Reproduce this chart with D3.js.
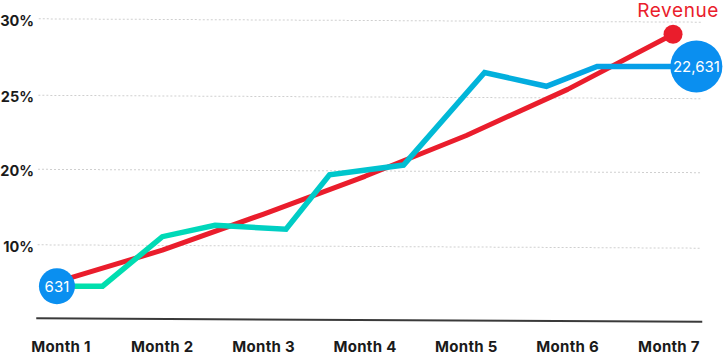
<!DOCTYPE html>
<html>
<head>
<meta charset="utf-8">
<script src="https://cdn.jsdelivr.net/npm/d3@7"></script>
<style>
  html, body { margin: 0; padding: 0; background: #fff; }
  svg { display: block; font-family: Inter, "Open Sans", sans-serif; }
</style>
</head>
<body>
<div id="chart"></div>
<script>
const months = ['Month 1', 'Month 2', 'Month 3', 'Month 4', 'Month 5', 'Month 6', 'Month 7'];
const yTicks = [10, 20, 25, 30];
const yTickLabels = ['10%', '20%', '25%', '30%'];

// trend (x in month units, y in %)
const revenueX = [0.96, 2.0, 3.0, 4.0, 5.0, 6.0, 7.04];
const revenueY = [5.2, 9.5, 14.3, 19.3, 22.4, 25.5, 29.1];

// actual series
const actualX = [0.96, 1.41, 2.0, 2.52, 3.22, 3.65, 4.38, 5.18, 5.79, 6.29, 7.27];
const actualY = [4.6, 4.6, 11.3, 12.8, 12.3, 19.5, 20.4, 26.6, 25.7, 27.0, 27.0];

const startLabel = '631';
const endLabel = '22,631';
const seriesName = 'Revenue';

const width = 723, height = 355;

const svg = d3.select('#chart').append('svg')
  .attr('width', width)
  .attr('height', height);

const x = d3.scaleLinear().domain([1, 7]).range([61, 669]);
// y ticks are evenly spaced even though the values are not
const y = d3.scaleLinear().domain([0, 10, 20, 25, 30]).range([320, 246.5, 171, 97, 20.5]);

// grid + baseline, slightly tilted like the reference
const grid = svg.append('g')
  .attr('transform', 'rotate(0.29, 370, 170)');

grid.selectAll('line.grid')
  .data(yTicks)
  .enter().append('line')
  .attr('class', 'grid')
  .attr('x1', 38)
  .attr('x2', 702)
  .attr('y1', d => y(d))
  .attr('y2', d => y(d))
  .attr('stroke', '#cfcfcf')
  .attr('stroke-width', 1)
  .attr('stroke-dasharray', '2,2');

grid.append('line')
  .attr('x1', 37)
  .attr('x2', 703)
  .attr('y1', y(0))
  .attr('y2', y(0))
  .attr('stroke', '#3a3a3a')
  .attr('stroke-width', 2);

// y labels
svg.selectAll('text.ytick')
  .data(yTicks)
  .enter().append('text')
  .attr('class', 'ytick')
  .attr('x', 34)
  .attr('y', d => y(d))
  .attr('dy', '0.36em')
  .attr('text-anchor', 'end')
  .attr('font-size', '14.5px')
  .attr('font-weight', 700)
  .attr('fill', '#1a1a1a')
  .text((d, i) => yTickLabels[i]);

// x labels
svg.selectAll('text.xtick')
  .data(months)
  .enter().append('text')
  .attr('class', 'xtick')
  .attr('x', (d, i) => x(i + 1))
  .attr('y', 352)
  .attr('text-anchor', 'middle')
  .attr('font-size', '15px')
  .attr('font-weight', 700)
  .attr('letter-spacing', '0.3px')
  .attr('fill', '#1a1a1a')
  .text(d => d);

// gradient for actual line
const defs = svg.append('defs');
const grad = defs.append('linearGradient')
  .attr('id', 'actualGrad')
  .attr('gradientUnits', 'userSpaceOnUse')
  .attr('x1', x(actualX[0])).attr('x2', x(actualX[actualX.length - 1]))
  .attr('y1', 0).attr('y2', 0);
grad.append('stop').attr('offset', '0').attr('stop-color', '#00e2a9');
grad.append('stop').attr('offset', '0.25').attr('stop-color', '#00d6bc');
grad.append('stop').attr('offset', '0.5').attr('stop-color', '#00c2d0');
grad.append('stop').attr('offset', '0.75').attr('stop-color', '#03abe0');
grad.append('stop').attr('offset', '1').attr('stop-color', '#0898ec');

const line = d3.line()
  .x(d => x(d[0]))
  .y(d => y(d[1]));

const revenue = revenueX.map((v, i) => [v, revenueY[i]]);
const actual = actualX.map((v, i) => [v, actualY[i]]);

svg.append('path')
  .datum(revenue)
  .attr('d', line)
  .attr('fill', 'none')
  .attr('stroke', '#ea1d2c')
  .attr('stroke-width', 5)
  .attr('stroke-linejoin', 'round');

svg.append('path')
  .datum(actual)
  .attr('d', line)
  .attr('fill', 'none')
  .attr('stroke', 'url(#actualGrad)')
  .attr('stroke-width', 5.5)
  .attr('stroke-linejoin', 'miter');

// end dot of revenue line
const rLast = revenue[revenue.length - 1];
svg.append('circle')
  .attr('cx', x(rLast[0]))
  .attr('cy', y(rLast[1]))
  .attr('r', 9.5)
  .attr('fill', '#ea1d2c');

svg.append('text')
  .attr('x', 719)
  .attr('y', 17)
  .attr('text-anchor', 'end')
  .attr('font-size', '19px')
  .attr('letter-spacing', '0.6px')
  .attr('fill', '#ea1d2c')
  .text(seriesName);

// start / end bubbles
const aFirst = actual[0], aLast = actual[actual.length - 1];
const bubbles = [
  { p: aFirst, r: 18, label: startLabel, size: 15 },
  { p: aLast, r: 26, label: endLabel, size: 15 }
];

const b = svg.selectAll('g.bubble')
  .data(bubbles)
  .enter().append('g')
  .attr('class', 'bubble')
  .attr('transform', d => `translate(${x(d.p[0])},${y(d.p[1])})`);

b.append('circle')
  .attr('r', d => d.r)
  .attr('fill', '#0a8ff0');

b.append('text')
  .attr('text-anchor', 'middle')
  .attr('dy', '0.36em')
  .attr('font-size', d => d.size + 'px')
  .attr('fill', '#fff')
  .text(d => d.label);
</script>
</body>
</html>
